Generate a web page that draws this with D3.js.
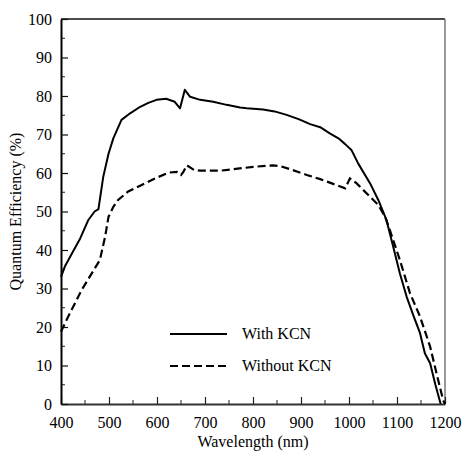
<!DOCTYPE html>
<html><head><meta charset="utf-8">
<script src="https://cdn.jsdelivr.net/npm/d3@7"></script>
<style>body{margin:0;background:#fff}svg{display:block}</style>
</head><body><svg id="c" width="462" height="454"></svg>
<script>
const xTicks=[400,500,600,700,800,900,1000,1100,1200];
const xMinor=[450,550,650,750,850,950,1050,1150];
const yTicks=[0,10,20,30,40,50,60,70,80,90,100];
const yMinor=[5,15,25,35,45,55,65,75,85,95];
const seriesNames=["With KCN","Without KCN"];
const withKCNx=[400,408,425,440,457,470,478,488,499,509,526,544,565,582,599,619,637,648,658,669,690,717,745,773,787,821,845,870,895,919,940,960,978,992,1005,1019,1044,1061,1078,1092,1106,1120,1134,1148,1158,1169,1180,1191];
const withKCNy=[33,35.7,39.6,43,47.8,50,50.6,59,65,69,73.8,75.5,77.2,78.2,79,79.3,78.5,76.8,81.6,79.8,79,78.5,77.7,77,76.8,76.5,76,75.1,74,72.7,71.9,70.3,69,67.5,66,62.5,57.3,53,47.8,40.9,33.9,27.9,23,18.4,13.2,10.6,5,0];
const withoutKCNx=[400,415,443,481,492,499,509,519,540,568,596,624,641,650,655,662,677,690,731,759,801,842,856,877,912,940,960,992,1002,1016,1044,1061,1075,1085,1106,1127,1148,1169,1179,1196,1200];
const withoutKCNy=[18.8,22.7,29.6,37.4,43.5,48.6,51.2,53,55.2,56.9,58.6,60.1,60.3,59.5,60.3,62,60.8,60.6,60.6,61,61.6,62,61.8,61,59.5,58.4,57.5,56,58.6,57.3,53.8,51.7,48.7,45.2,37.4,28.8,22.7,14.9,9.7,1,0];

const L=61,R=445,T=19,B=404;
const FS=16;
const FONT="Liberation Serif";
const svg=d3.select("#c");
const x=d3.scaleLinear().domain([400,1200]).range([L,R]);
const y=d3.scaleLinear().domain([0,100]).range([B,T]);

svg.append("line").attr("x1",L).attr("x2",R).attr("y1",T).attr("y2",T).attr("stroke","#111").attr("stroke-width",1.5);
svg.append("line").attr("x1",R).attr("x2",R).attr("y1",T).attr("y2",B).attr("stroke","#777").attr("stroke-width",1.5);

svg.append("g").selectAll("line").data(xMinor).join("line")
 .attr("x1",d=>x(d)).attr("x2",d=>x(d)).attr("y1",B).attr("y2",B-4).attr("stroke","#222").attr("stroke-width",1);
svg.append("g").selectAll("line").data(yMinor).join("line")
 .attr("y1",d=>y(d)).attr("y2",d=>y(d)).attr("x1",L).attr("x2",L+4).attr("stroke","#222").attr("stroke-width",1);

const xa=svg.append("g").attr("transform",`translate(0,${B})`)
 .call(d3.axisBottom(x).tickValues(xTicks).tickFormat(d3.format("d")).tickSize(-7).tickPadding(13).tickSizeOuter(0));
xa.attr("font-family",FONT).attr("font-size",FS);
xa.select(".domain").attr("stroke","#333").attr("stroke-width",2);
xa.selectAll(".tick line").attr("stroke","#222").attr("stroke-width",1.2);
xa.selectAll("text").attr("fill","#000");

const ya=svg.append("g").attr("transform",`translate(${L},0)`)
 .call(d3.axisLeft(y).tickValues(yTicks).tickFormat(d3.format("d")).tickSize(-7).tickPadding(9).tickSizeOuter(0));
ya.attr("font-family",FONT).attr("font-size",FS);
ya.select(".domain").attr("stroke","#000").attr("stroke-width",2);
ya.selectAll(".tick line").attr("stroke","#111").attr("stroke-width",1.2);
ya.selectAll("text").attr("fill","#000");

const line=d3.line().x(d=>x(d[0])).y(d=>y(d[1]));
const s1=withKCNx.map((v,i)=>[v,withKCNy[i]]);
const s2=withoutKCNx.map((v,i)=>[v,withoutKCNy[i]]);
svg.append("path").datum(s1).attr("d",line).attr("fill","none").attr("stroke","#000").attr("stroke-width",2).attr("stroke-linejoin","round");
svg.append("path").datum(s2).attr("d",line).attr("fill","none").attr("stroke","#000").attr("stroke-width",2.2).attr("stroke-dasharray","8,4");

const leg=[{n:seriesNames[0],dash:null,yy:334},{n:seriesNames[1],dash:"8,4",yy:366}];
leg.forEach(l=>{
 svg.append("line").attr("x1",170).attr("x2",227).attr("y1",l.yy).attr("y2",l.yy).attr("stroke","#000").attr("stroke-width",2).attr("stroke-dasharray",l.dash);
 svg.append("text").attr("x",242).attr("y",l.yy+5).attr("font-family",FONT).attr("font-size",FS).text(l.n);
});

svg.append("text").attr("x",(L+R)/2).attr("y",447).attr("text-anchor","middle").attr("font-family",FONT).attr("font-size",FS).text("Wavelength (nm)");
svg.append("text").attr("transform",`translate(21,${(T+B)/2}) rotate(-90)`).attr("text-anchor","middle").attr("font-family",FONT).attr("font-size",FS).text("Quantum Efficiency (%)");
</script></body></html>
